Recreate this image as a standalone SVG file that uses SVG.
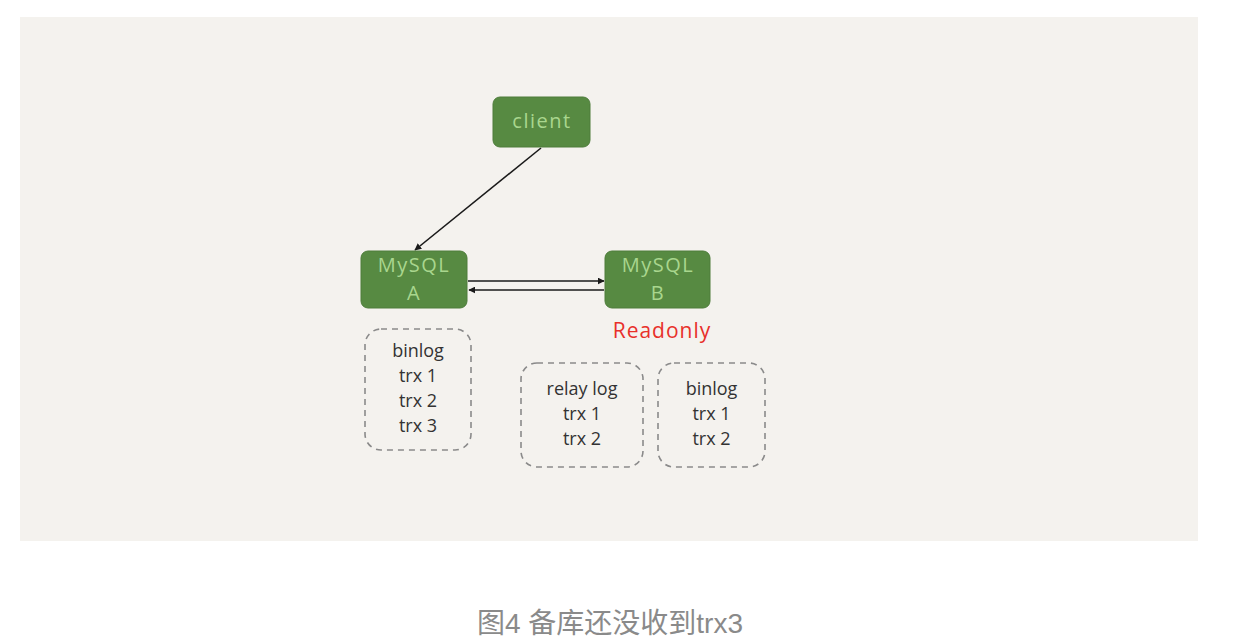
<svg xmlns="http://www.w3.org/2000/svg" width="1234" height="642" viewBox="0 0 1234 642">
<defs>
<style>
.node{fill:#578a42;stroke:#4e7d3b;stroke-width:1}
.nt{font-family:"Open Sans","DejaVu Sans",sans-serif;font-size:20px;fill:#a9d68e;text-anchor:middle;letter-spacing:1.5px}
.box{fill:none;stroke:#8a8a8a;stroke-width:1.6;stroke-dasharray:6 5}
.bt{font-family:"Open Sans","DejaVu Sans",sans-serif;font-size:18px;fill:#333;text-anchor:middle}
.edge{stroke:#1a1a1a;stroke-width:1.6;fill:none;marker-end:url(#ah)}
</style>
<marker id="ah" viewBox="0 0 10 10" refX="9" refY="5" markerWidth="7" markerHeight="7" orient="auto" markerUnits="userSpaceOnUse">
<path d="M0,0 L10,5 L0,10 z" fill="#1a1a1a"/>
</marker>
</defs>
<rect x="0" y="0" width="1234" height="642" fill="#ffffff"/>
<rect x="20" y="17" width="1178" height="524" fill="#f4f2ee"/>
<g id="connectors">
<line class="edge" x1="541" y1="148" x2="415" y2="250"/>
<line class="edge" x1="468" y1="281" x2="604" y2="281"/>
<line class="edge" x1="604" y1="290" x2="469" y2="290"/>
</g>
<g id="client">
<rect class="node" x="493" y="97" width="97" height="50" rx="7"/>
<text class="nt" x="542" y="128">client</text>
</g>
<g id="mysqlA">
<rect class="node" x="361" y="251" width="106" height="57" rx="7"/>
<text class="nt" x="414" y="272">MySQL</text>
<text class="nt" x="414" y="300">A</text>
</g>
<g id="mysqlB">
<rect class="node" x="605" y="251" width="105" height="57" rx="7"/>
<text class="nt" x="658" y="272">MySQL</text>
<text class="nt" x="658" y="300">B</text>
</g>
<g id="readonly">
<text x="662" y="338" font-family="'Open Sans','DejaVu Sans',sans-serif" font-size="21" fill="#e8302a" text-anchor="middle" letter-spacing="1">Readonly</text>
</g>
<g id="binlogA">
<rect class="box" x="365" y="329" width="106" height="121" rx="16"/>
<text class="bt" x="418" y="357">binlog</text>
<text class="bt" x="418" y="382">trx 1</text>
<text class="bt" x="418" y="407">trx 2</text>
<text class="bt" x="418" y="432">trx 3</text>
</g>
<g id="relaylogB">
<rect class="box" x="521" y="363" width="122" height="104" rx="16"/>
<text class="bt" x="582" y="395">relay log</text>
<text class="bt" x="582" y="420">trx 1</text>
<text class="bt" x="582" y="445">trx 2</text>
</g>
<g id="binlogB">
<rect class="box" x="658" y="363" width="107" height="104" rx="16"/>
<text class="bt" x="711.5" y="395">binlog</text>
<text class="bt" x="711.5" y="420">trx 1</text>
<text class="bt" x="711.5" y="445">trx 2</text>
</g>
<g id="caption">
<text x="610" y="633" font-family="'Liberation Sans','Noto Sans CJK SC',sans-serif" font-size="28" fill="#8a8a8a" text-anchor="middle">图4 备库还没收到trx3</text>
</g>
</svg>
